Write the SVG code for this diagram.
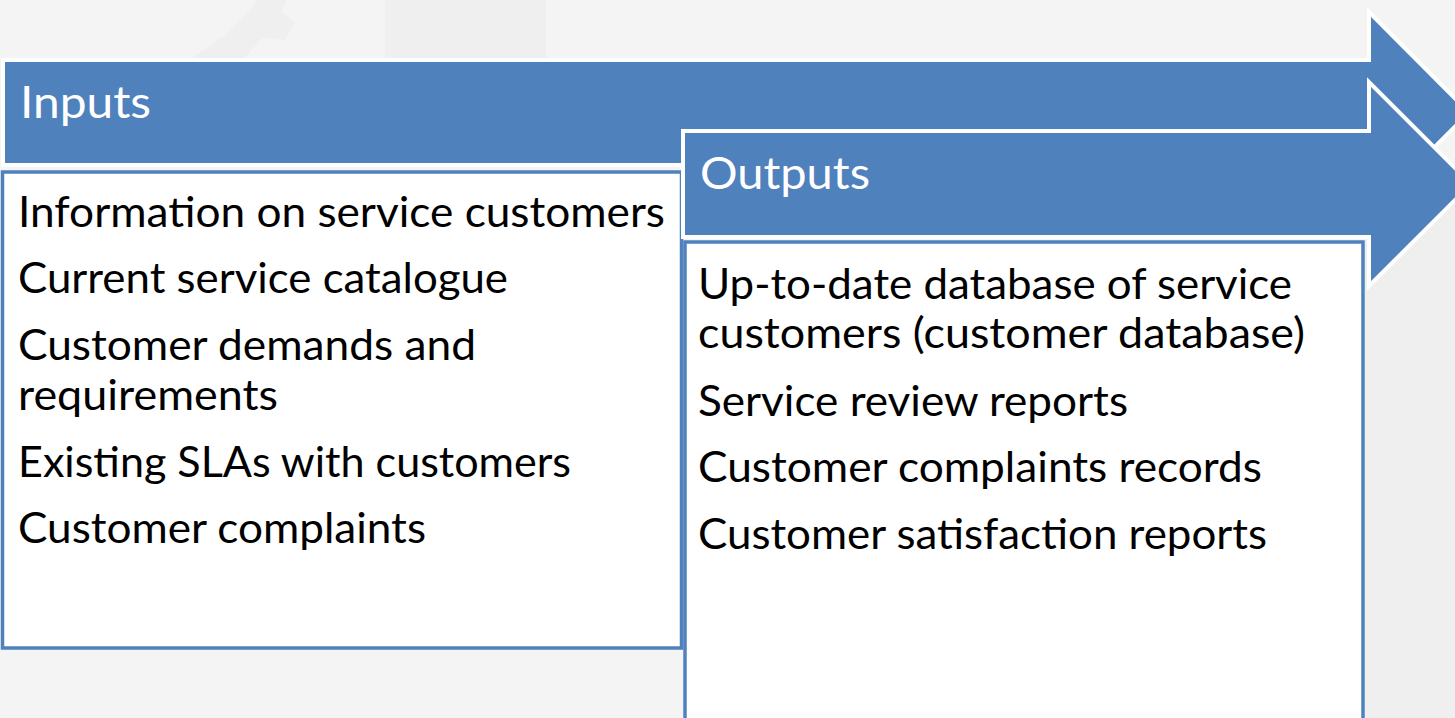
<svg xmlns="http://www.w3.org/2000/svg" width="1455" height="718" viewBox="0 0 1455 718">
  <style>
    .arrow { fill: #4f81bd; stroke: #ffffff; stroke-width: 4; stroke-linejoin: miter; }
    .box { fill: #ffffff; stroke: #4f81bd; stroke-width: 3.5; }
    .head { font-family: Lato, "Open Sans", sans-serif; font-size: 44px; fill: #ffffff; }
    .item { font-family: Lato, "Open Sans", sans-serif; font-size: 42px; fill: #000000; }
  </style>
  <g id="background">
    <rect x="0" y="0" width="1455" height="718" fill="#f4f4f4"/>
    <rect x="1365" y="200" width="90" height="518" fill="#efefef"/>
    <rect x="385" y="0" width="161" height="58" fill="#efefef"/>
    <path d="M258,0 L286,0 L282,12 L295,22 L285,40 L262,38 L245,58 L192,58 L225,35 L248,12 Z" fill="#efefef"/>
  </g>
  <g id="inputs">
    <polygon class="arrow" points="3,60 1369,60 1369,12 1469,112.5 1369,213 1369,165 3,165"/>
    <text class="head" x="20" y="118" textLength="131" lengthAdjust="spacingAndGlyphs">Inputs</text>
    <rect class="box" x="2.5" y="172" width="679" height="476"/>
    <text class="item" x="18" y="227" textLength="647" lengthAdjust="spacingAndGlyphs">Information on service customers</text>
    <text class="item" x="18" y="293" textLength="490" lengthAdjust="spacingAndGlyphs">Current service catalogue</text>
    <text class="item" x="18" y="360" textLength="458" lengthAdjust="spacingAndGlyphs">Customer demands and</text>
    <text class="item" x="18" y="410" textLength="260" lengthAdjust="spacingAndGlyphs">requirements</text>
    <text class="item" x="18" y="477" textLength="553" lengthAdjust="spacingAndGlyphs">Existing SLAs with customers</text>
    <text class="item" x="18" y="543" textLength="408" lengthAdjust="spacingAndGlyphs">Customer complaints</text>
  </g>
  <g id="outputs">
    <polygon class="arrow" points="683,131 1369,131 1369,82 1471,184 1369,286 1369,237 683,237"/>
    <text class="head" x="700" y="189" textLength="170" lengthAdjust="spacingAndGlyphs">Outputs</text>
    <rect class="box" x="685" y="242" width="678" height="490"/>
    <text class="item" x="698" y="299" textLength="594" lengthAdjust="spacingAndGlyphs">Up-to-date database of service</text>
    <text class="item" x="698" y="348" textLength="607" lengthAdjust="spacingAndGlyphs">customers (customer database)</text>
    <text class="item" x="698" y="416" textLength="430" lengthAdjust="spacingAndGlyphs">Service review reports</text>
    <text class="item" x="698" y="482" textLength="564" lengthAdjust="spacingAndGlyphs">Customer complaints records</text>
    <text class="item" x="698" y="549" textLength="569" lengthAdjust="spacingAndGlyphs">Customer satisfaction reports</text>
  </g>
  <g id="connectors"></g>
</svg>
